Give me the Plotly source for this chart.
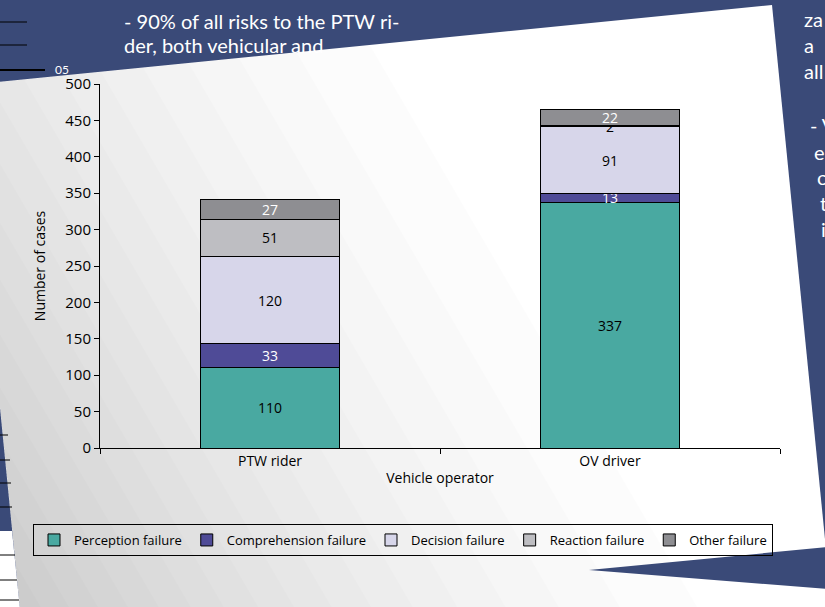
import plotly.graph_objects as go

# ---------------- data ----------------
operators = ["PTW rider", "OV driver"]
perception = [110, 337]
comprehension = [33, 13]
decision = [120, 91]
reaction = [51, 2]
other = [27, 22]
y_ticks = [0, 50, 100, 150, 200, 250, 300, 350, 400, 450, 500]

series = [
    ("Perception failure", perception, "#49A9A1", "black"),
    ("Comprehension failure", comprehension, "#4F4B97", "white"),
    ("Decision failure", decision, "#D7D6EA", "black"),
    ("Reaction failure", reaction, "#BEBEC2", "black"),
    ("Other failure", other, "#8E8E92", "white"),
]

# ---------------- layout geometry ----------------
W, H = 825, 607
ML, MR, MT, MB = 100, 45, 84, 159
PW, PH = W - ML - MR, H - MT - MB
BLUE = "#3A4A78"
FONT = "Open Sans"


def px2paper(x, y):
    return (x - ML) / PW, (H - MB - y) / PH


def path_of(poly):
    pts = [px2paper(x, y) for x, y in poly]
    return "M " + " L ".join(f"{a:.5f},{b:.5f}" for a, b in pts) + " Z"


def clip(poly, f):
    out = []
    n = len(poly)
    for i in range(n):
        p, q = poly[i], poly[(i + 1) % n]
        fp, fq = f(p), f(q)
        if fp >= 0:
            out.append(p)
        if (fp >= 0) != (fq >= 0):
            t = fp / (fp - fq)
            out.append((p[0] + t * (q[0] - p[0]), p[1] + t * (q[1] - p[1])))
    return out


fig = go.Figure()
for name, vals, col, tcol in series:
    fig.add_trace(go.Bar(
        name=name, x=operators, y=vals,
        marker=dict(color=col, line=dict(color="black", width=1)),
        text=vals, textposition="inside", insidetextanchor="middle",
        textangle=0, constraintext="none",
        textfont=dict(color=tcol, size=14, family=FONT),
        hoverinfo="skip",
    ))

shapes = []
# rotated sheet of paper
sheet = [(-32, 85), (772, 5), (836, 650), (24, 650)]
shapes.append(dict(type="path", xref="paper", yref="paper", path=path_of(sheet),
                   fillcolor="white", line=dict(width=0), layer="below"))
# soft grey gradient toward the left / bottom-left
N = 18
g_min = 212.0
alpha = 1 - (g_min / 255.0) ** (1 / N)
for k in range(1, N + 1):
    g_k = 255.0 * (1 - alpha) ** (k - 0.5)
    s = ((255.0 - g_k) / (255.0 - g_min)) ** (1 / 1.45)
    u_k = 0.35 + 0.65 * s
    band = clip(sheet, lambda p, c=u_k: 0.7 * (W - p[0]) / W + 0.3 * p[1] / H - c)
    if len(band) >= 3:
        shapes.append(dict(type="path", xref="paper", yref="paper", path=path_of(band),
                           fillcolor=f"rgba(0,0,0,{alpha:.4f})", line=dict(width=0),
                           layer="below"))
# bottom-right slide wedge
shapes.append(dict(type="path", xref="paper", yref="paper",
                   path=path_of([(589, 570), (828, 547), (828, 589)]),
                   fillcolor=BLUE, line=dict(width=0), layer="below"))
# bottom-left slide table fragment
shapes.append(dict(type="path", xref="paper", yref="paper",
                   path=path_of([(-2, 531), (12, 531), (20, 609), (-2, 609)]),
                   fillcolor="white", line=dict(width=0), layer="below"))
for yy, x1 in [(435, 8), (460, 10), (483, 11), (507, 12), (555, 15), (580, 17), (600, 19)]:
    a = px2paper(0, yy)
    b = px2paper(x1, yy)
    shapes.append(dict(type="line", xref="paper", yref="paper", x0=a[0], y0=a[1],
                       x1=b[0], y1=b[1], line=dict(color="black", width=1), layer="below"))
# top-left slide lines
for yy, x1, wd in [(22, 27, 1), (45, 27, 1), (70, 45, 2)]:
    a = px2paper(0, yy)
    b = px2paper(x1, yy)
    shapes.append(dict(type="line", xref="paper", yref="paper", x0=a[0], y0=a[1],
                       x1=b[0], y1=b[1], line=dict(color="black", width=wd), layer="below"))

annotations = []


def slide_text(txt, x, y, size=20, anchor="left"):
    px, py = px2paper(x, y)
    annotations.append(dict(text=txt, x=px, y=py, xref="paper", yref="paper",
                            xanchor=anchor, yanchor="middle", showarrow=False,
                            font=dict(family="Lato", size=size, color="white")))


slide_text("- 90% of all risks to the PTW ri-", 122, 21)
slide_text("der, both vehicular and", 122, 45)
slide_text("05", 53, 70, size=12)
for txt, x, y in [("za", 802, 19), ("a", 802, 45), ("all", 802, 71), ("- V", 808, 125),
                  ("e", 812, 152), ("c", 815, 177), ("t", 818, 203), ("i", 819, 229)]:
    slide_text(txt, x, y)

lx, ly = px2paper(33, 540)

fig.update_layout(
    width=W, height=H,
    margin=dict(l=ML, r=MR, t=MT, b=MB),
    paper_bgcolor=BLUE, plot_bgcolor="rgba(0,0,0,0)",
    barmode="stack", bargap=0.59,
    font=dict(family=FONT, size=14, color="black"),
    uniformtext=dict(mode="show", minsize=14),
    shapes=shapes, annotations=annotations,
    showlegend=True,
    legend=dict(orientation="h", x=lx, xanchor="left", y=ly, yanchor="middle",
                bordercolor="black", borderwidth=1, bgcolor="rgba(0,0,0,0)",
                font=dict(family=FONT, size=13), traceorder="normal",
                itemwidth=30),
    xaxis=dict(showline=True, linecolor="black", linewidth=1, ticks="outside",
               tickson="boundaries", ticklen=5, tickcolor="black",
               showgrid=False, zeroline=False, automargin=False,
               tickfont=dict(family=FONT, size=14),
               title=dict(text="Vehicle operator", standoff=4,
                          font=dict(family=FONT, size=14))),
    yaxis=dict(range=[0, 500], tickvals=y_ticks, showline=True, linecolor="black",
               linewidth=1, ticks="outside", ticklen=5, tickcolor="black",
               showgrid=False, zeroline=False, automargin=False,
               tickfont=dict(family=FONT, size=15),
               title=dict(text="Number of cases", standoff=16,
                          font=dict(family=FONT, size=14))),
)

fig.write_html(
    "out.html",
    config={"displayModeBar": False},
    post_script="document.body.style.margin='0';document.body.style.background='%s';" % BLUE,
)
